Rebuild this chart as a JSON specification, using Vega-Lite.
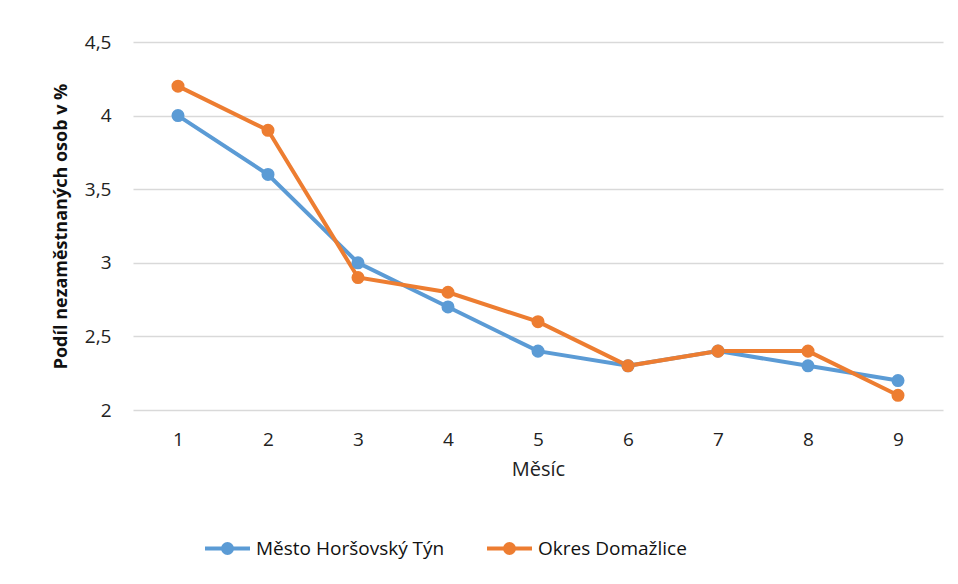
{
  "$schema": "https://vega.github.io/schema/vega-lite/v6.json",
  "width": 810,
  "height": 368,
  "autosize": {"type": "none"},
  "padding": {"left": 133, "top": 42, "right": 15, "bottom": 174},
  "background": "white",
  "config": {
    "font": "Open Sans",
    "view": {"stroke": null}
  },
  "data": {
    "values": [
      {"mesic": 1, "serie": "Město Horšovský Týn", "podil": 4.0},
      {"mesic": 2, "serie": "Město Horšovský Týn", "podil": 3.6},
      {"mesic": 3, "serie": "Město Horšovský Týn", "podil": 3.0},
      {"mesic": 4, "serie": "Město Horšovský Týn", "podil": 2.7},
      {"mesic": 5, "serie": "Město Horšovský Týn", "podil": 2.4},
      {"mesic": 6, "serie": "Město Horšovský Týn", "podil": 2.3},
      {"mesic": 7, "serie": "Město Horšovský Týn", "podil": 2.4},
      {"mesic": 8, "serie": "Město Horšovský Týn", "podil": 2.3},
      {"mesic": 9, "serie": "Město Horšovský Týn", "podil": 2.2},
      {"mesic": 1, "serie": "Okres Domažlice", "podil": 4.2},
      {"mesic": 2, "serie": "Okres Domažlice", "podil": 3.9},
      {"mesic": 3, "serie": "Okres Domažlice", "podil": 2.9},
      {"mesic": 4, "serie": "Okres Domažlice", "podil": 2.8},
      {"mesic": 5, "serie": "Okres Domažlice", "podil": 2.6},
      {"mesic": 6, "serie": "Okres Domažlice", "podil": 2.3},
      {"mesic": 7, "serie": "Okres Domažlice", "podil": 2.4},
      {"mesic": 8, "serie": "Okres Domažlice", "podil": 2.4},
      {"mesic": 9, "serie": "Okres Domažlice", "podil": 2.1}
    ]
  },
  "mark": {"type": "line", "strokeWidth": 4, "point": {"filled": true, "size": 170, "opacity": 1}},
  "encoding": {
    "x": {
      "field": "mesic",
      "type": "ordinal",
      "scale": {"padding": 0.5},
      "axis": {
        "title": "Měsíc",
        "labelAngle": 0,
        "labelFontSize": 19,
        "labelColor": "#222222",
        "labelPadding": 20,
        "titleFontSize": 20,
        "titleFontWeight": "normal",
        "titleColor": "#222222",
        "titlePadding": 10,
        "domain": false,
        "ticks": false,
        "grid": false
      }
    },
    "y": {
      "field": "podil",
      "type": "quantitative",
      "scale": {"domain": [2, 4.5], "nice": false, "zero": false},
      "axis": {
        "title": "Podíl nezaměstnaných osob v %",
        "values": [2, 2.5, 3, 3.5, 4, 4.5],
        "labelExpr": "replace(format(datum.value, '.1~f'), '.', ',')",
        "labelFontSize": 19,
        "labelColor": "#222222",
        "labelPadding": 22,
        "titleFontSize": 18,
        "titleFontWeight": "bold",
        "titleColor": "#111111",
        "titlePadding": 14,
        "domain": false,
        "ticks": false,
        "grid": true,
        "gridColor": "#d9d9d9",
        "gridWidth": 1.5
      }
    },
    "color": {
      "field": "serie",
      "type": "nominal",
      "scale": {
        "domain": ["Město Horšovský Týn", "Okres Domažlice"],
        "range": ["#5B9BD5", "#ED7D31"]
      },
      "legend": {
        "title": null,
        "orient": "none",
        "direction": "horizontal",
        "legendX": 70,
        "legendY": 482,
        "symbolType": "M-1,0H1M-0.2,0A0.2,0.2,0,1,0,0.2,0A0.2,0.2,0,1,0,-0.2,0Z",
        "symbolSize": 2025,
        "symbolStrokeWidth": 4,
        "labelFontSize": 19,
        "labelLimit": 0,
        "labelColor": "#111111",
        "labelOffset": 4,
        "columnPadding": 34,
        "encode": {
          "symbols": {"update": {"fill": {"scale": "color", "field": "value"}}}
        }
      }
    }
  }
}
